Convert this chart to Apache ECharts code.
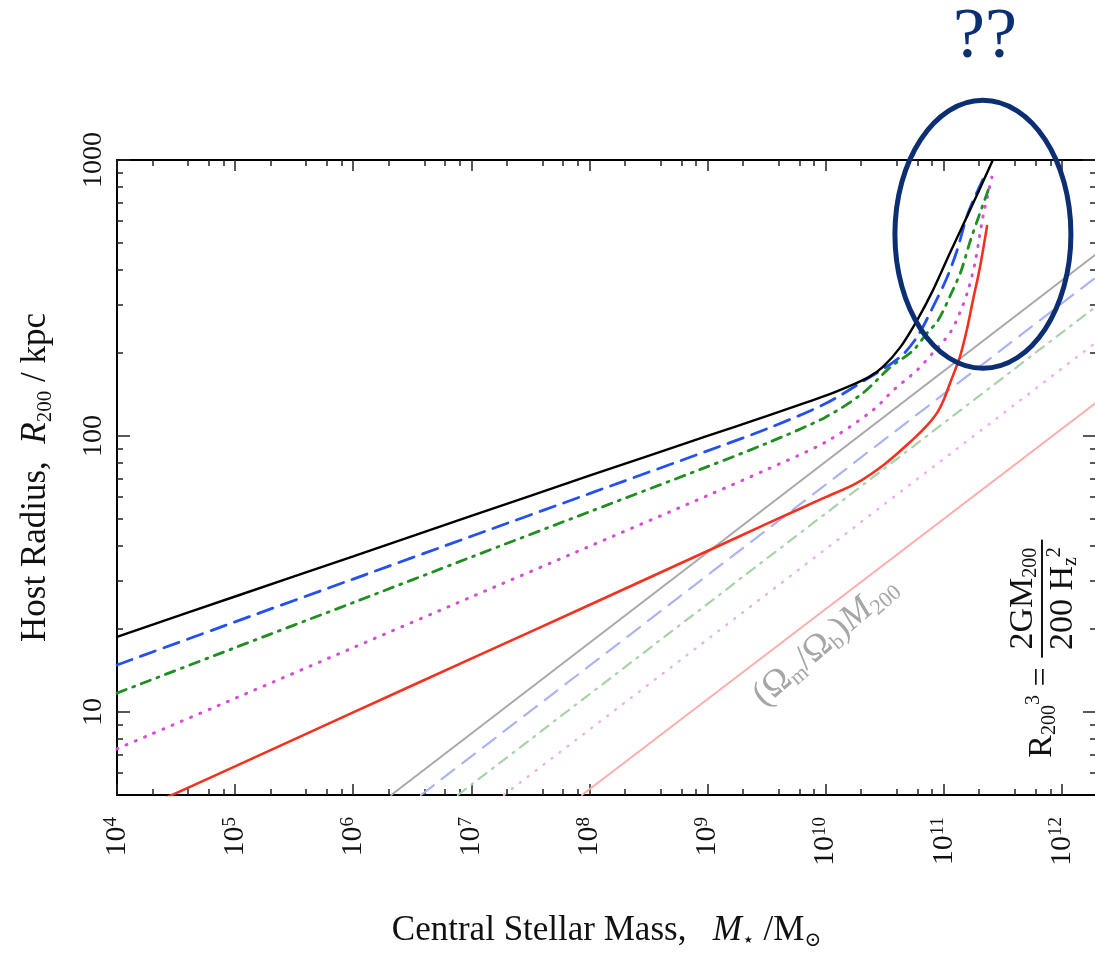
<!DOCTYPE html>
<html>
<head>
<meta charset="utf-8">
<script src="https://cdn.jsdelivr.net/npm/echarts@6.0.0/dist/echarts.min.js"></script>
<style>
  html, body { margin: 0; padding: 0; background: #fff; }
  #c { width: 1095px; height: 958px; }
</style>
</head>
<body>
<div id="c"></div>
<script>
// ---------------- data ----------------
const xMajorTicks = [1e4, 1e5, 1e6, 1e7, 1e8, 1e9, 1e10, 1e11, 1e12];
const xMinorSteps = [2, 4, 6, 8];
const yMajorTicks = [10, 100, 1000];
const yMinorSteps = [2, 3, 4, 5, 6, 7, 8, 9];

// black solid
const blackMass   = [1e4, 1e5, 1e6, 1e7, 1e8, 1e9, 3.16e9, 1e10, 1.61e10, 2.3e10, 3.06e10, 4.27e10, 5.94e10, 8.11e10, 1.13e11, 1.57e11, 2.61e11];
const blackRadius = [18.7, 26.2, 36.6, 51.3, 71.8, 100, 118, 140, 152, 163, 178, 209, 262, 337, 460, 621, 1000];
// blue dashed
const blueMass    = [1e4, 1e5, 1e6, 1e7, 1e8, 1e9, 3.16e9, 1e10, 2.14e10, 4.27e10, 5.94e10, 8.11e10, 1.07e11, 1.30e11, 1.61e11, 2.24e11];
const blueRadius  = [14.8, 21.2, 30.3, 43.3, 61.8, 88.3, 106, 131, 159, 193, 228, 293, 376, 471, 643, 882];
// green dash-dot
const greenMass   = [1e4, 1e5, 1e6, 1e7, 1e8, 1e9, 3.16e9, 1e10, 2.07e10, 3.51e10, 5.5e10, 7.23e10, 8.95e10, 1.17e11, 1.41e11, 1.66e11, 2.0e11, 2.47e11];
const greenRadius = [11.7, 17.1, 24.9, 36.4, 53.1, 77.4, 94, 117, 143, 177, 204, 236, 262, 331, 398, 501, 631, 811];
// magenta dotted
const magentaMass   = [1e4, 1e5, 1e6, 1e7, 1e8, 1e9, 3.16e9, 1e10, 2.52e10, 3.72e10, 5.94e10, 8.11e10, 1.13e11, 1.37e11, 1.61e11, 1.84e11, 2.15e11, 2.56e11];
const magentaRadius = [7.35, 11.2, 17.1, 26.1, 39.8, 60.8, 75.5, 95, 124, 146, 173, 200, 236, 279, 337, 423, 621, 867];
// red solid
const redMass   = [1e4, 1e5, 1e6, 1e7, 1e8, 1e9, 3.16e9, 1e10, 1.78e10, 3.16e10, 5.62e10, 7.08e10, 8.77e10, 1.0e11, 1.13e11, 1.37e11, 1.57e11, 1.77e11, 2.03e11, 2.33e11];
const redRadius = [4.06, 6.35, 9.96, 15.6, 24.4, 38.3, 48, 60, 67, 79, 98, 108, 121, 135, 155, 193, 242, 310, 409, 576];
// faint straight lines: R200 of (Omega_m/Omega_b) M*
const grayMass = [2.1e6, 2e12];          const grayRadius = [5, 459];
const lightBlueMass = [3.75e6, 2e12];    const lightBlueRadius = [5, 379];
const lightGreenMass = [7.7e6, 2e12];    const lightGreenRadius = [5, 297];
const lightMagentaMass = [1.89e7, 2e12]; const lightMagentaRadius = [5, 220];
const pinkMass = [8.65e7, 2e12];         const pinkRadius = [5, 133];

// ---------------- chart ----------------
const FONT = '"Liberation Serif", "Times New Roman", "DejaVu Serif", serif';
const X_MIN = 1e4, X_MAX = 1.95e12, Y_MIN = 5, Y_MAX = 1000;

function minorList(majors, steps, lo, hi) {
  const out = [];
  const first = majors[0] / 10;
  for (let d = first; d <= majors[majors.length - 1]; d *= 10) {
    steps.forEach(s => { const v = s * d; if (v > lo && v < hi) out.push(v); });
  }
  return out;
}
const xMinorTicks = minorList(xMajorTicks, xMinorSteps, X_MIN, X_MAX);
const yMinorTicks = minorList(yMajorTicks, yMinorSteps, Y_MIN, Y_MAX);

const pairs = (ms, rs) => ms.map((m, i) => [m, rs[i]]);

function xAxisDef(position, ticks, len, withLine, withLabel) {
  const ax = {
    type: 'log', logBase: 10, min: X_MIN, max: X_MAX, position: position, gridIndex: 0,
    axisLine: { show: withLine, lineStyle: { color: '#000', width: 2 } },
    axisTick: { show: true, inside: true, length: len, customValues: ticks, lineStyle: { color: '#222', width: 1.5 } },
    axisLabel: { show: false },
    splitLine: { show: false }, minorTick: { show: false }, minorSplitLine: { show: false }
  };
  if (withLabel) {
    ax.axisLabel = {
      show: true, customValues: xMajorTicks, rotate: 90, margin: 22,
      formatter: v => '{b|10}{s|' + Math.round(Math.log10(v)) + '}',
      rich: {
        b: { fontFamily: FONT, fontSize: 30, color: '#111', lineHeight: 30 },
        s: { fontFamily: FONT, fontSize: 19, color: '#111', verticalAlign: 'top', lineHeight: 30, padding: [0, 0, 12, 0] }
      }
    };
    ax.name = '{t|Central Stellar Mass,   }{i|M}{sub|\u22C6}{t| /M}{sub|\u2299}';
    ax.nameLocation = 'middle';
    ax.nameGap = 116;
    ax.nameTextStyle = {
      rich: {
        t: { fontFamily: FONT, fontSize: 35, color: '#111', lineHeight: 40 },
        i: { fontFamily: FONT, fontSize: 35, fontStyle: 'italic', color: '#111', lineHeight: 40 },
        sub: { fontFamily: FONT, fontSize: 20, color: '#111', verticalAlign: 'bottom', lineHeight: 40, padding: [12, 0, 0, 0] }
      }
    };
  }
  return ax;
}

function yAxisDef(position, ticks, len, withLine, withLabel) {
  const ax = {
    type: 'log', logBase: 10, min: Y_MIN, max: Y_MAX, position: position, gridIndex: 0,
    axisLine: { show: withLine, lineStyle: { color: '#000', width: 2 } },
    axisTick: { show: true, inside: true, length: len, customValues: ticks, lineStyle: { color: '#222', width: 1.5 } },
    axisLabel: { show: false },
    splitLine: { show: false }, minorTick: { show: false }, minorSplitLine: { show: false }
  };
  if (withLabel) {
    ax.axisLabel = {
      show: true, customValues: yMajorTicks, rotate: 90, margin: 9,
      formatter: v => String(Math.round(v)),
      fontFamily: FONT, fontSize: 28, color: '#111'
    };
    ax.name = '{t|Host Radius,  }{i|R}{sub|200}{t| / kpc}';
    ax.nameLocation = 'middle';
    ax.nameRotate = 90;
    ax.nameGap = 61;
    ax.nameTextStyle = {
      rich: {
        t: { fontFamily: FONT, fontSize: 35, color: '#111', lineHeight: 40 },
        i: { fontFamily: FONT, fontSize: 35, fontStyle: 'italic', color: '#111', lineHeight: 40 },
        sub: { fontFamily: FONT, fontSize: 21, color: '#111', verticalAlign: 'bottom', lineHeight: 40, padding: [12, 0, 0, 0] }
      }
    };
  }
  return ax;
}

function lineSeries(name, ms, rs, color, width, type, smooth, z) {
  return {
    name: name, type: 'line', xAxisIndex: 0, yAxisIndex: 0,
    data: pairs(ms, rs), showSymbol: false, symbol: 'none',
    smooth: smooth, clip: true, z: z, silent: true,
    lineStyle: { color: color, width: width, type: type, cap: 'round' }
  };
}

const option = {
  animation: false,
  backgroundColor: '#fff',
  grid: { left: 117, top: 160, width: 979, height: 635, containLabel: false, outerBoundsMode: 'none' },
  xAxis: [
    xAxisDef('bottom', xMajorTicks, 11, true, true),
    xAxisDef('bottom', xMinorTicks, 6, false, false),
    xAxisDef('top', xMajorTicks, 11, true, false),
    xAxisDef('top', xMinorTicks, 6, false, false)
  ],
  yAxis: [
    yAxisDef('left', yMajorTicks, 13, true, true),
    yAxisDef('left', yMinorTicks, 6, false, false),
    yAxisDef('right', yMajorTicks, 13, true, false),
    yAxisDef('right', yMinorTicks, 6, false, false)
  ],
  series: [
    lineSeries('gray', grayMass, grayRadius, '#a9a9a9', 2, 'solid', false, 2),
    lineSeries('lightBlue', lightBlueMass, lightBlueRadius, '#aab3f6', 2.2, [16, 10], false, 2),
    lineSeries('lightGreen', lightGreenMass, lightGreenRadius, '#a9d2a9', 2.2, [10, 7, 2, 7], false, 2),
    lineSeries('lightMagenta', lightMagentaMass, lightMagentaRadius, '#eeaeee', 2.4, [1, 9], false, 2),
    lineSeries('pink', pinkMass, pinkRadius, '#ffadad', 2, 'solid', false, 2),
    lineSeries('magenta', magentaMass, magentaRadius, '#d84ad8', 3, [1, 9], 0.3, 3),
    lineSeries('green', greenMass, greenRadius, '#1f8f1f', 2.8, [10, 7, 2, 7], 0.3, 3),
    lineSeries('blue', blueMass, blueRadius, '#2450f0', 2.8, [16, 9], 0.3, 3),
    lineSeries('red', redMass, redRadius, '#f5301e', 2.6, 'solid', 0.3, 4),
    lineSeries('black', blackMass, blackRadius, '#000000', 2.4, 'solid', 0.3, 5)
  ]
};

const chart = echarts.init(document.getElementById('c'), null, { renderer: 'canvas' });
chart.setOption(option);

// ---------------- annotations ----------------
const px = (m, r) => chart.convertToPixel({ xAxisIndex: 0, yAxisIndex: 0 }, [m, r]);
const ellC = px(2.15e11, 538);
const grayLbl = px(1.0e10, 18.0);
const eqPos = px(6.8e11, 17.1);
const NAVY = '#0b2f72';
const GRAY_TXT = '#a6a6a6';

chart.setOption({
  graphic: [
    {
      type: 'ellipse', z: 100,
      shape: { cx: ellC[0], cy: ellC[1], rx: 88, ry: 134 },
      style: { fill: null, stroke: NAVY, lineWidth: 5 }
    },
    {
      type: 'text', z: 100, x: ellC[0] + 2, y: ellC[1] - 196,
      style: { text: '??', font: '72px ' + FONT, fill: NAVY, align: 'center', verticalAlign: 'middle' }
    },
    {
      type: 'text', z: 50, x: grayLbl[0], y: grayLbl[1], rotation: 41 * Math.PI / 180,
      style: {
        text: '{n|(\u03A9}{s|m}{n|/\u03A9}{s|b}{n|)}{i|M}{s|200}',
        align: 'center', verticalAlign: 'middle',
        rich: {
          n: { fontFamily: FONT, fontSize: 36, fill: GRAY_TXT, lineHeight: 40 },
          i: { fontFamily: FONT, fontSize: 36, fontStyle: 'italic', fill: GRAY_TXT, lineHeight: 40 },
          s: { fontFamily: FONT, fontSize: 22, fill: GRAY_TXT, verticalAlign: 'bottom', lineHeight: 40, padding: [12, 0, 0, 0] }
        }
      }
    },
    {
      type: 'group', z: 50, x: eqPos[0], y: eqPos[1], rotation: Math.PI / 2,
      children: [
        {
          type: 'text', x: -110, y: 0,
          style: {
            text: '{n|R}{s|200}{p|3}{n| =}', align: 'left', verticalAlign: 'middle',
            rich: {
              n: { fontFamily: FONT, fontSize: 34, fill: '#111', lineHeight: 36 },
              s: { fontFamily: FONT, fontSize: 20, fill: '#111', verticalAlign: 'bottom', lineHeight: 36, padding: [12, 0, 0, 0] },
              p: { fontFamily: FONT, fontSize: 20, fill: '#111', verticalAlign: 'top', lineHeight: 36, padding: [0, 0, 12, 0] }
            }
          }
        },
        {
          type: 'line', shape: { x1: -10, y1: 0, x2: 108, y2: 0 },
          style: { stroke: '#111', lineWidth: 2 }
        },
        {
          type: 'text', x: 49, y: -19,
          style: {
            text: '{n|2GM}{s|200}', align: 'center', verticalAlign: 'middle',
            rich: {
              n: { fontFamily: FONT, fontSize: 34, fill: '#111', lineHeight: 36 },
              s: { fontFamily: FONT, fontSize: 20, fill: '#111', verticalAlign: 'bottom', lineHeight: 36, padding: [12, 0, 0, 0] }
            }
          }
        },
        {
          type: 'text', x: 49, y: 21,
          style: {
            text: '{n|200 H}{s|z}{p|2}', align: 'center', verticalAlign: 'middle',
            rich: {
              n: { fontFamily: FONT, fontSize: 34, fill: '#111', lineHeight: 36 },
              s: { fontFamily: FONT, fontSize: 20, fill: '#111', verticalAlign: 'bottom', lineHeight: 36, padding: [12, 0, 0, 0] },
              p: { fontFamily: FONT, fontSize: 20, fill: '#111', verticalAlign: 'top', lineHeight: 36, padding: [0, 0, 12, 0] }
            }
          }
        }
      ]
    }
  ]
});
</script>
</body>
</html>
